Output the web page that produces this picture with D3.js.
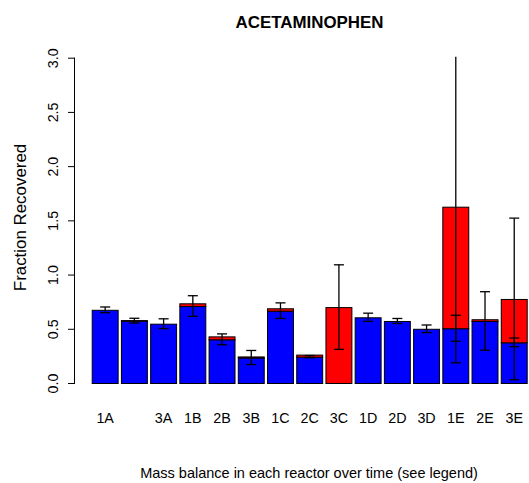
<!DOCTYPE html>
<html>
<head>
<meta charset="utf-8">
<script src="https://cdn.jsdelivr.net/npm/d3@7"></script>
<style>
  html, body { margin: 0; padding: 0; background: #fff; }
  svg { display: block; font-family: "Liberation Sans", Arial, sans-serif; }
</style>
</head>
<body>
<svg id="chart" width="529" height="483"></svg>
<script>
// Reactor / time-point labels along the x axis
const categories = ["1A","2A","3A","1B","2B","3B","1C","2C","3C","1D","2D","3D","1E","2E","3E"];
// Tick text printed under each bar (2A has no printed label)
const tickLabels = ["1A","","3A","1B","2B","3B","1C","2C","3C","1D","2D","3D","1E","2E","3E"];
// Lower (blue) fraction recovered
const baseFraction = [0.675,0.575,0.547,0.71,0.403,0.235,0.667,0.243,0.0,0.606,0.572,0.50,0.505,0.572,0.375];
// Upper (red) portion stacked on top of the blue fraction
const addedFraction = [0.0,0.005,0.0,0.025,0.027,0.01,0.022,0.019,0.70,0.0,0.0,0.0,1.121,0.016,0.40];
// Error half-widths for the blue fraction
const baseError = [0.026,0.022,0.045,0.095,0.05,0.065,0.072,0.01,0.0,0.038,0.023,0.035,0.12,0.27,0.04];
// Error half-widths for the stacked total
const totalError = [0,0,0,0,0,0,0,0,0.39,0,0,0,1.44,0,0.745];
// Y axis ticks
const yTicks = [0, 0.5, 1.0, 1.5, 2.0, 2.5, 3.0];

const svg = d3.select("#chart");

const x = d3.scaleBand()
  .domain(categories)
  .range([91.7, 527.7])
  .paddingInner(0.078)
  .paddingOuter(0);

const y = d3.scaleLinear().domain([0, 3]).range([383, 57.7]);

// Title
svg.append("text")
  .attr("x", 309.5).attr("y", 27.5)
  .attr("text-anchor", "middle")
  .attr("font-size", 16.9).attr("font-weight", "bold")
  .text("ACETAMINOPHEN");

// Bars: blue base, red segment stacked on top
const g = svg.append("g");
const rows = categories.map((c, i) => ({
  c, b: baseFraction[i], a: addedFraction[i], t: baseFraction[i] + addedFraction[i],
  eb: baseError[i], et: totalError[i]
}));

g.selectAll("rect.base").data(rows).join("rect")
  .attr("class", "base")
  .attr("x", d => x(d.c) + 0.5)
  .attr("y", d => y(d.b) + 0.5)
  .attr("width", x.bandwidth() - 1)
  .attr("height", d => Math.max(0, y(0) - y(d.b)))
  .attr("fill", "#0000ff").attr("stroke", "#000").attr("stroke-width", 1);

g.selectAll("rect.added").data(rows.filter(d => d.a > 0)).join("rect")
  .attr("class", "added")
  .attr("x", d => x(d.c) + 0.5)
  .attr("y", d => y(d.t) + 0.5)
  .attr("width", x.bandwidth() - 1)
  .attr("height", d => y(d.b) - y(d.t))
  .attr("fill", "#ff0000").attr("stroke", "#000").attr("stroke-width", 1);

// Error bars, clipped to the plotting region
svg.append("clipPath").attr("id", "plotclip")
  .append("rect").attr("x", 60).attr("y", y(3) - 1).attr("width", 470).attr("height", y(0) - y(3) + 10);

const eg = svg.append("g").attr("clip-path", "url(#plotclip)");
const capHalf = 5;
function errorBar(cx, v, e) {
  if (e <= 0) return;
  const top = y(v + e), bot = y(v - e);
  eg.append("line").attr("x1", cx).attr("x2", cx).attr("y1", top).attr("y2", bot)
    .attr("stroke", "#000").attr("stroke-width", 1.3);
  [top, bot].forEach(yy => {
    eg.append("line").attr("x1", cx - capHalf).attr("x2", cx + capHalf).attr("y1", yy).attr("y2", yy)
      .attr("stroke", "#000").attr("stroke-width", 1.3);
  });
}
rows.forEach(d => {
  const cx = x(d.c) + x.bandwidth() / 2;
  errorBar(cx, d.b, d.eb);
  errorBar(cx, d.t, d.et);
});

// Y axis (R style: rotated tick labels left of the axis)
const yAxis = d3.axisLeft(y).tickValues(yTicks).tickSize(7).tickFormat(d3.format(".1f"));
const ya = svg.append("g").attr("transform", "translate(75,0)").call(yAxis);
ya.select(".domain").attr("d", `M-0.5,${y(0)}V${y(3)}`).attr("stroke", "#000").attr("fill", "none");
ya.selectAll(".tick line").attr("stroke", "#000");
ya.selectAll(".tick text")
  .attr("font-size", 14.3).attr("font-family", "Liberation Sans, Arial, sans-serif").attr("fill", "#000")
  .attr("x", null).attr("dy", null)
  .attr("text-anchor", "middle")
  .attr("transform", "translate(-17,0) rotate(-90)")
  .attr("y", 0);

// X tick labels
svg.append("g").selectAll("text").data(categories).join("text")
  .attr("x", d => x(d) + x.bandwidth() / 2)
  .attr("y", 423)
  .attr("text-anchor", "middle")
  .attr("font-size", 14.3)
  .text((d, i) => tickLabels[i]);

// Axis titles
svg.append("text")
  .attr("transform", `translate(26,217.5) rotate(-90)`)
  .attr("text-anchor", "middle").attr("font-size", 16.9)
  .text("Fraction Recovered");

svg.append("text")
  .attr("x", 309).attr("y", 478)
  .attr("text-anchor", "middle").attr("font-size", 14.5)
  .text("Mass balance in each reactor over time (see legend)");
</script>
</body>
</html>
